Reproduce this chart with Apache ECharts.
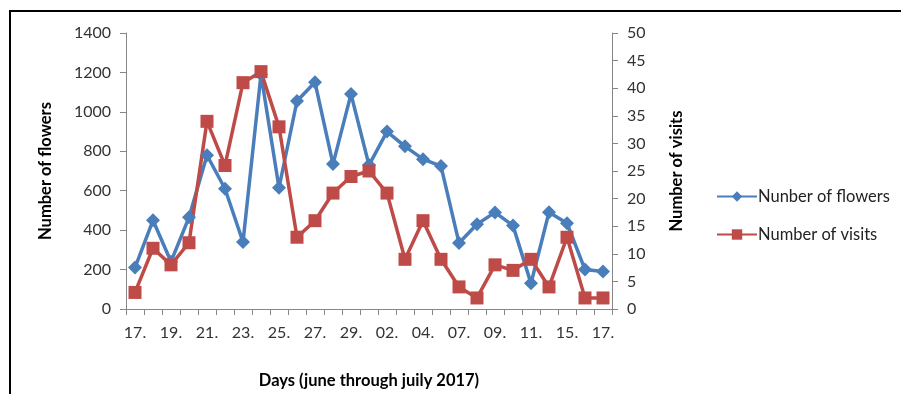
<!DOCTYPE html>
<html>
<head>
<meta charset="utf-8">
<script src="https://cdn.jsdelivr.net/npm/echarts@6/dist/echarts.min.js"></script>
<style>
  html, body { margin: 0; padding: 0; background: #fff; }
  #wrap { position: relative; width: 901px; height: 394px; overflow: hidden; }
  #frame { position: absolute; left: 9px; top: 10px; width: 900px; height: 400px;
           border-top: 2px solid #000; border-left: 2px solid #000; }
  #chart { position: absolute; left: 0; top: 0; width: 901px; height: 394px; }
</style>
</head>
<body>
<div id="wrap">
  <div id="frame"></div>
  <div id="chart"></div>
</div>
<script>
  // days, june -> july 2017 (only every other one is labelled)
  var days = ['17.','18.','19.','20.','21.','22.','23.','24.','25.','26.','27.','28.','29.','30.',
              '02.','03.','04.','05.','07.','08.','09.','10.','11.','13.','15.','16.','17.'];
  var flowers = [210,450,240,465,780,610,340,1190,615,1055,1150,735,1090,730,
                 900,825,760,725,335,430,490,423,130,491,435,200,190];
  var visits = [3,11,8,12,34,26,41,43,33,13,16,21,24,25,
                21,9,16,9,4,2,8,7,9,4,13,2,2];

  var font = 'Lato, "Open Sans", sans-serif';
  var axisGray = '#868686';

  var myChart = echarts.init(document.getElementById('chart'));
  var option = {
    animation: false,
    textStyle: { fontFamily: font },
    grid: { left: 126, right: 289, top: 33, bottom: 85 },
    legend: {
      orient: 'vertical',
      left: 711,
      top: 183,
      itemWidth: 40,
      itemHeight: 13,
      itemGap: 21,
      textStyle: { fontSize: 16.5, color: '#222', fontFamily: font, padding: [0, 0, 0, -4] },
      data: ['Nunber of flowers', 'Number of visits']
    },
    xAxis: {
      type: 'category',
      data: days,
      boundaryGap: true,
      name: 'Days (june through juily 2017)',
      nameLocation: 'middle',
      nameGap: 63,
      nameTextStyle: { fontSize: 16.5, fontWeight: 'bold', color: '#000' },
      axisLine: { lineStyle: { color: axisGray, width: 1 } },
      axisTick: { show: true, interval: 0, length: 6, lineStyle: { color: axisGray } },
      axisLabel: { interval: 1, margin: 16, fontSize: 16, color: '#333' },
      splitLine: { show: false }
    },
    yAxis: [
      {
        type: 'value',
        min: 0, max: 1400, interval: 200,
        name: 'Number of flowers',
        nameLocation: 'middle',
        nameGap: 72,
        nameTextStyle: { fontSize: 16.5, fontWeight: 'bold', color: '#000' },
        axisLine: { show: true, lineStyle: { color: axisGray } },
        axisTick: { show: true, length: 6, lineStyle: { color: axisGray } },
        axisLabel: { margin: 15, fontSize: 16, color: '#333', formatter: function (v) { return String(v); } },
        splitLine: { show: false }
      },
      {
        type: 'value',
        min: 0, max: 50, interval: 5,
        name: 'Number of visits',
        nameLocation: 'middle',
        nameGap: 56,
        nameTextStyle: { fontSize: 16.5, fontWeight: 'bold', color: '#000' },
        axisLine: { show: true, lineStyle: { color: axisGray } },
        axisTick: { show: true, length: 6, lineStyle: { color: axisGray } },
        axisLabel: { margin: 15, fontSize: 16, color: '#333' },
        splitLine: { show: false }
      }
    ],
    series: [
      {
        name: 'Nunber of flowers',
        type: 'line',
        yAxisIndex: 0,
        data: flowers,
        showAllSymbol: true,
        symbol: 'diamond',
        symbolSize: 14,
        color: '#4A7EBB',
        lineStyle: { width: 3.5, color: '#4A7EBB' },
        itemStyle: { color: '#4A7EBB' }
      },
      {
        name: 'Number of visits',
        type: 'line',
        yAxisIndex: 1,
        data: visits,
        showAllSymbol: true,
        symbol: 'rect',
        symbolSize: 13,
        color: '#BE4B48',
        lineStyle: { width: 3.5, color: '#BE4B48' },
        itemStyle: { color: '#BE4B48' }
      }
    ]
  };
  myChart.setOption(option);
</script>
</body>
</html>
